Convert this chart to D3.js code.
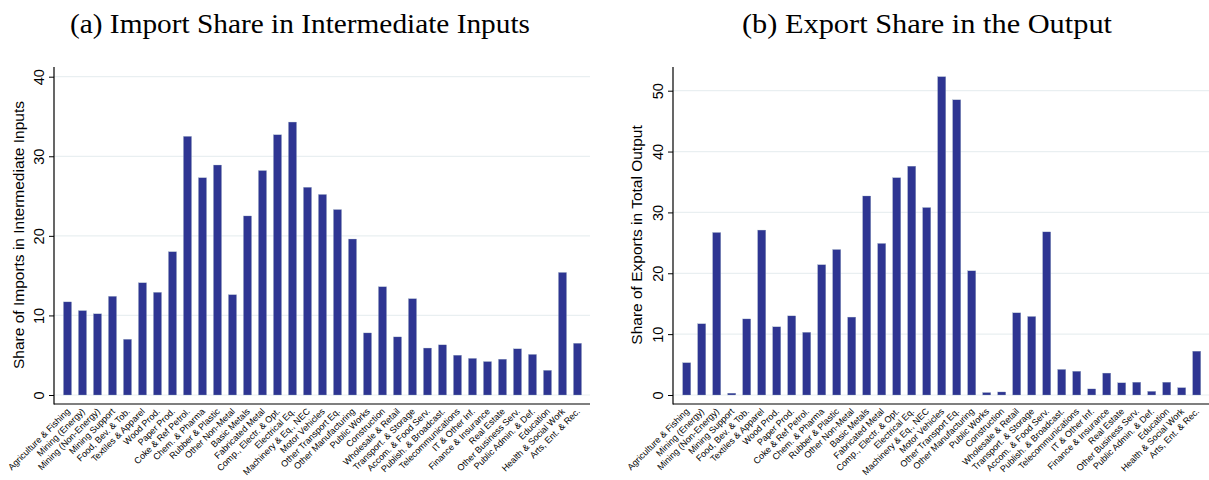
<!DOCTYPE html>
<html>
<head>
<meta charset="utf-8">
<script src="https://cdnjs.cloudflare.com/ajax/libs/d3/7.8.5/d3.min.js"></script>
<style>
body { margin: 0; background: #ffffff; }
svg { display: block; }
</style>
</head>
<body>
<div id="chartHolder"></div>
<script>
//*************
// Sector data
//*************

var sectors = ["Agriculture & Fishing", "Mining (Energy)", "Mining (Non-Energy)", "Mining Support",
	"Food, Bev. & Tob.", "Textiles & Apparel", "Wood Prod.", "Paper Prod.", "Coke & Ref Petrol.",
	"Chem. & Pharma", "Rubber & Plastic", "Other Non-Metal", "Basic Metals", "Fabricated Metal",
	"Comp., Electr. & Opt.", "Electrical Eq.", "Machinery & Eq., NEC", "Motor Vehicles",
	"Other Transport Eq.", "Other  Manufacturing", "Public Works", "Construction", "Wholesale & Retail",
	"Transport. & Storage", "Accom. & Food Serv.", "Publish. & Broadcast.", "Telecommunications",
	"IT & Other Inf.", "Finance & Insurance", "Real Estate", "Other Business Serv.",
	"Public Admin. & Def.", "Education", "Health & Social Work", "Arts, Ent. & Rec."];

var importShare = [11.7, 10.6, 10.2, 12.4, 7.0, 14.1, 12.9, 18.0, 32.5, 27.3, 28.9, 12.6, 22.5, 28.2,
	32.7, 34.3, 26.1, 25.2, 23.3, 19.6, 7.8, 13.6, 7.3, 12.1, 5.9, 6.3, 5.0, 4.6, 4.2, 4.5, 5.8, 5.1,
	3.1, 15.4, 6.5];

var exportShare = [5.3, 11.7, 26.7, 0.3, 12.5, 27.1, 11.2, 13.0, 10.3, 21.4, 23.9, 12.8, 32.7, 24.9,
	35.7, 37.6, 30.8, 52.3, 48.5, 20.4, 0.4, 0.5, 13.5, 12.9, 26.8, 4.2, 3.9, 1.0, 3.6, 2.0, 2.1, 0.6,
	2.1, 1.2, 7.2];

var importTicks = [0, 10, 20, 30, 40];
var exportTicks = [0, 10, 20, 30, 40, 50];

var titleA = "(a) Import Share in Intermediate Inputs";
var titleB = "(b) Export Share in the Output";
var yTitleA = "Share of Imports in Intermediate Inputs";
var yTitleB = "Share of Exports in Total Output";

//*************
// Panel drawing kit
//*************

function BarPanel(svg, opts) {
	this.svg = svg;
	this.o = opts;

	this.x = d3.scaleBand()
		.domain(sectors)
		.range([opts.bandLeft, opts.bandLeft + 15 * sectors.length])
		.paddingInner(0.46)
		.paddingOuter(0.23);

	this.y = d3.scaleLinear()
		.domain([0, opts.topValue])
		.range([395, opts.topPixel]);
}

BarPanel.prototype.draw = function() {
	var that = this, o = this.o;
	var g = this.svg.append("g").attr("class", "panel");

	// light grid lines
	g.selectAll(".grid").data(o.ticks).enter()
		.append("line")
		.attr("x1", o.axisX)
		.attr("x2", o.right)
		.attr("y1", function(d) { return that.y(d); })
		.attr("y2", function(d) { return that.y(d); })
		.attr("stroke", "#e9eff1")
		.attr("stroke-width", 1.2);

	// bars
	g.selectAll(".bar").data(o.values).enter()
		.append("rect")
		.attr("x", function(d, i) { return that.x(sectors[i]); })
		.attr("width", this.x.bandwidth())
		.attr("y", function(d) { return that.y(d); })
		.attr("height", function(d) { return that.y(0) - that.y(d); })
		.attr("fill", "#2e3592")
		.attr("stroke", "#9fb3c4")
		.attr("stroke-width", 0.3);

	// y axis
	var yAxis = d3.axisLeft(this.y).tickValues(o.ticks).tickSize(5).tickFormat(d3.format("d"));
	var ya = g.append("g").attr("transform", "translate(" + o.axisX + ",0)").call(yAxis);
	ya.select(".domain").remove();
	ya.selectAll(".tick line").attr("stroke", "#000");
	ya.selectAll(".tick text")
		.attr("x", 0).attr("y", 0).attr("dy", null)
		.attr("transform", "translate(-10,0) rotate(-90)")
		.attr("text-anchor", "middle")
		.style("font-family", "'Liberation Sans', Arial, sans-serif")
		.style("font-size", "14.5px")
		.attr("fill", "#000");

	g.append("line")
		.attr("x1", o.axisX).attr("x2", o.axisX)
		.attr("y1", 67).attr("y2", 404.5)
		.attr("stroke", "#000").attr("stroke-width", 1.2);

	// x axis (line sits a little below zero)
	var xAxis = d3.axisBottom(this.x).tickSize(0);
	var xa = g.append("g").attr("transform", "translate(0,404)").call(xAxis);
	xa.select(".domain").remove();
	xa.selectAll(".tick text")
		.attr("x", 0).attr("y", 0).attr("dy", null)
		.attr("transform", "translate(3,8) rotate(-45)")
		.attr("text-anchor", "end")
		.style("font-family", "'Liberation Sans', Arial, sans-serif")
		.style("font-size", "9px")
		.attr("fill", "#000");

	g.append("line")
		.attr("x1", o.axisX).attr("x2", o.right)
		.attr("y1", 404).attr("y2", 404)
		.attr("stroke", "#000").attr("stroke-width", 1.2);

	// y title
	g.append("text")
		.attr("transform", "translate(" + o.yTitleX + ",235) rotate(-90)")
		.attr("text-anchor", "middle")
		.style("font-family", "'Liberation Sans', Arial, sans-serif")
		.style("font-size", "15.5px")
		.text(o.yTitle);

	// panel title
	g.append("text")
		.attr("x", o.titleX)
		.attr("y", 33)
		.attr("text-anchor", "middle")
		.attr("textLength", o.titleLen)
		.attr("lengthAdjust", "spacingAndGlyphs")
		.style("font-family", "'Liberation Serif', 'Times New Roman', serif")
		.style("font-size", "27px")
		.text(o.title);
};

// Drawing
var svg = d3.select("#chartHolder").append("svg")
	.attr("width", 1209)
	.attr("height", 480);

new BarPanel(svg, {
	values: importShare, ticks: importTicks, topValue: 40, topPixel: 76.7,
	axisX: 54, right: 590, bandLeft: 60, yTitleX: 24, yTitle: yTitleA,
	title: titleA, titleX: 300, titleLen: 460
}).draw();

new BarPanel(svg, {
	values: exportShare, ticks: exportTicks, topValue: 50, topPixel: 90.7,
	axisX: 673, right: 1209, bandLeft: 679.2, yTitleX: 642, yTitle: yTitleB,
	title: titleB, titleX: 927, titleLen: 370
}).draw();
</script>
</body>
</html>
